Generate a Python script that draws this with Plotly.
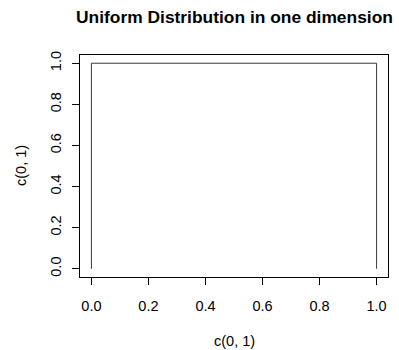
import plotly.graph_objects as go

x_vals = [0, 0, 1, 1]
y_vals = [0, 1, 1, 0]
tick_vals = [0.0, 0.2, 0.4, 0.6, 0.8, 1.0]
tick_text = ["0.0", "0.2", "0.4", "0.6", "0.8", "1.0"]

FONT = "Liberation Sans, Arial, sans-serif"
FS = 14.5

fig = go.Figure()
fig.add_trace(go.Scatter(x=x_vals, y=y_vals, mode="lines",
                         line=dict(color="#3a3a3a", width=1), showlegend=False,
                         hoverinfo="skip"))

axis_common = dict(
    showgrid=False, zeroline=False, showline=True, mirror=True,
    linecolor="black", linewidth=1, ticks="outside", ticklen=7,
    tickcolor="black", tickwidth=1, tickvals=tick_vals, ticktext=tick_text,
    tickfont=dict(family=FONT, size=FS, color="black"),
)
fig.update_xaxes(range=[-0.04, 1.04], ticklabelstandoff=9, **axis_common)
fig.update_yaxes(range=[-0.04, 1.04], tickangle=-90, ticklabelstandoff=5, **axis_common)

fig.update_layout(
    width=399, height=350,
    margin=dict(l=80, r=11, t=55, b=73),
    plot_bgcolor="white", paper_bgcolor="white",
    font=dict(family=FONT, size=FS, color="black"),
    annotations=[
        dict(text="<b>Uniform Distribution in one dimension</b>", xref="paper", yref="paper",
             x=0.5, y=1, yanchor="middle", xanchor="center", yshift=55 - 17,
             showarrow=False, font=dict(family=FONT, size=17.4, color="black")),
        dict(text="c(0, 1)", xref="paper", yref="paper", x=0.5, y=0,
             yanchor="middle", xanchor="center", yshift=-(341 - 277),
             showarrow=False, font=dict(family=FONT, size=FS, color="black")),
        dict(text="c(0, 1)", xref="paper", yref="paper", x=0, y=0.5,
             yanchor="middle", xanchor="center", xshift=-(80 - 21), textangle=-90,
             showarrow=False, font=dict(family=FONT, size=FS, color="black")),
    ],
)

fig.write_html("out.html")
